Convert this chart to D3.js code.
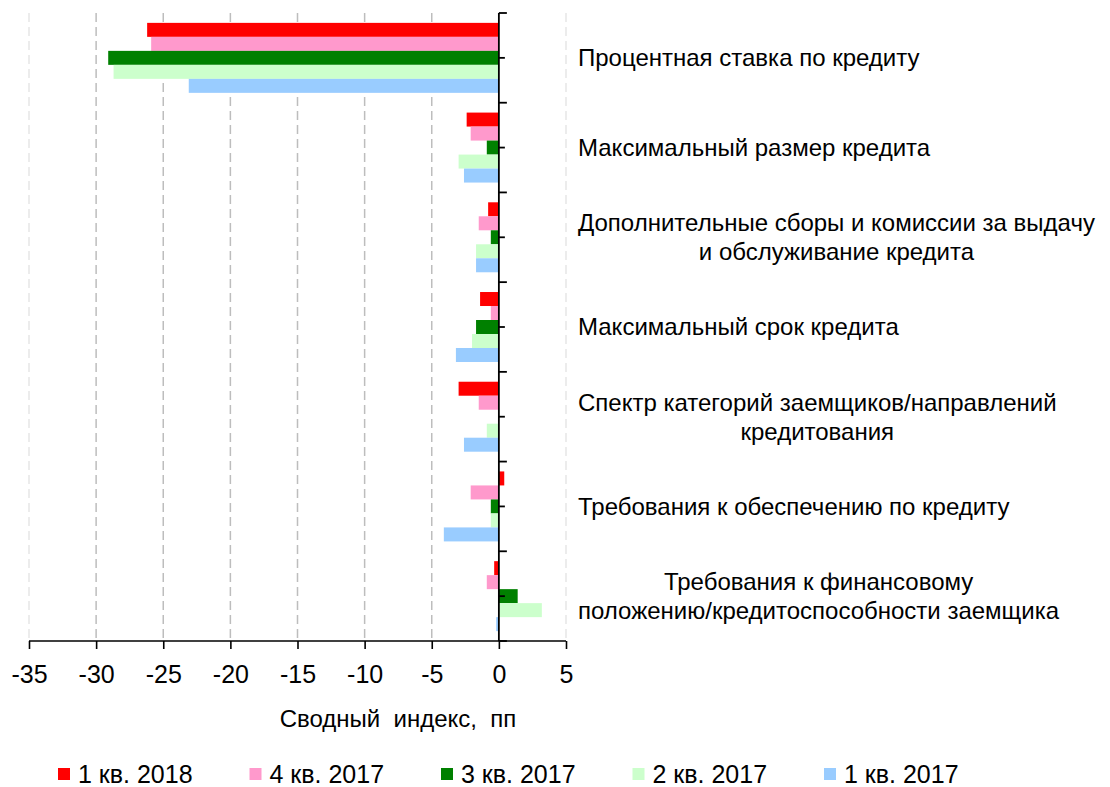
<!DOCTYPE html>
<html>
<head>
<meta charset="utf-8">
<script src="https://cdn.jsdelivr.net/npm/d3@7"></script>
<style>
  body { margin: 0; background: #fff; }
  text { font-family: "Liberation Sans", Arial, sans-serif; fill: #000; }
</style>
</head>
<body>
<script>
// categories (top to bottom), each label split into lines
var categories = [
  ["Процентная ставка по кредиту"],
  ["Максимальный размер кредита"],
  ["Дополнительные сборы и комиссии за выдачу", "и обслуживание кредита"],
  ["Максимальный срок кредита"],
  ["Спектр категорий заемщиков/направлений", "кредитования"],
  ["Требования к обеспечению по кредиту"],
  ["Требования к финансовому", "положению/кредитоспособности заемщика"]
];
var seriesNames = ["1 кв. 2018", "4 кв. 2017", "3 кв. 2017", "2 кв. 2017", "1 кв. 2017"];
var seriesColors = ["#ff0000", "#ff99cc", "#008000", "#ccffcc", "#99ccff"];

// values per series, in category order
var q1_2018 = [-26.2, -2.4, -0.8, -1.4, -3.0,  0.4, -0.35];
var q4_2017 = [-25.9, -2.1, -1.5, -0.6, -1.5, -2.1, -0.9];
var q3_2017 = [-29.1, -0.9, -0.6, -1.7,  0.0, -0.6,  1.4];
var q2_2017 = [-28.7, -3.0, -1.7, -2.0, -0.9, -0.6,  3.2];
var q1_2017 = [-23.1, -2.6, -1.7, -3.2, -2.6, -4.1, -0.2];
var seriesValues = [q1_2018, q4_2017, q3_2017, q2_2017, q1_2017];

var xTicks = [-35, -30, -25, -20, -15, -10, -5, 0, 5];

var W = 1110, H = 787;
var svg = d3.select("body").append("svg").attr("width", W).attr("height", H);

var x = d3.scaleLinear().domain([-35, 5]).range([29, 566]);
var y = d3.scaleBand().domain(d3.range(categories.length))
  .range([13, 641]).paddingInner(0.22).paddingOuter(0.11);
var yInner = d3.scaleBand().domain(d3.range(seriesNames.length)).range([0, y.bandwidth()]);
var step = y.step();

// gridlines
svg.append("g").selectAll("line").data(xTicks.filter(function(d) { return d !== 0; }))
  .enter().append("line")
  .attr("x1", function(d) { return x(d); }).attr("x2", function(d) { return x(d); })
  .attr("y1", 13).attr("y2", 641)
  .attr("stroke", function(d) { return (d === -35 || d === 5) ? "#e6e6e6" : "#bdbdbd"; })
  .attr("stroke-width", 1.5)
  .attr("stroke-dasharray", "9,5");

// bars
var rows = svg.append("g").selectAll("g").data(categories).enter().append("g")
  .attr("transform", function(d, i) { return "translate(0," + y(i) + ")"; });
rows.selectAll("rect").data(function(d, i) {
    return seriesValues.map(function(s, k) { return { k: k, v: s[i] }; });
  })
  .enter().append("rect")
  .attr("x", function(d) { return x(Math.min(0, d.v)); })
  .attr("width", function(d) { return Math.abs(x(d.v) - x(0)); })
  .attr("y", function(d) { return yInner(d.k); })
  .attr("height", yInner.bandwidth())
  .attr("fill", function(d) { return seriesColors[d.k]; });

// x axis
var xAxis = svg.append("g").attr("transform", "translate(0,641)")
  .call(d3.axisBottom(x).tickValues(xTicks).tickSize(8).tickPadding(16).tickFormat(d3.format("d")));
xAxis.select(".domain").attr("stroke-width", 1.6).attr("d", "M" + x(-35) + ",0H" + x(5));
xAxis.selectAll(".tick line").attr("stroke-width", 1.6);
xAxis.selectAll("text").style("font-size", "25px").style("font-family", "Liberation Sans, Arial, sans-serif")
  .text(function(d) { return String(d).replace("−", "-"); });

// zero (category) axis
var zx = x(0);
svg.append("line").attr("x1", zx).attr("x2", zx).attr("y1", 13).attr("y2", 641)
  .attr("stroke", "#000").attr("stroke-width", 1.8);
var bounds = d3.range(categories.length + 1).map(function(i) { return 13 + i * step; });
svg.append("g").selectAll("line").data(bounds).enter().append("line")
  .attr("x1", zx).attr("x2", zx + 8)
  .attr("y1", function(d) { return d; }).attr("y2", function(d) { return d; })
  .attr("stroke", "#000").attr("stroke-width", 1.8);
svg.append("g").selectAll("line").data(d3.range(categories.length)).enter().append("line")
  .attr("x1", zx).attr("x2", zx + 6)
  .attr("y1", function(i) { return 13 + (i + 0.5) * step; })
  .attr("y2", function(i) { return 13 + (i + 0.5) * step; })
  .attr("stroke", "#000").attr("stroke-width", 1.8);

// category labels (block left-aligned, lines centred in block)
var lineH = 29;
categories.forEach(function(lines, i) {
  var cy = 13 + (i + 0.5) * step;
  var g = svg.append("g");
  var ts = lines.map(function(t, j) {
    return g.append("text").attr("font-size", 24).attr("dy", "0.35em")
      .attr("y", cy + (j - (lines.length - 1) / 2) * lineH).text(t);
  });
  var widths = ts.map(function(t) { return t.node().getComputedTextLength(); });
  var maxW = d3.max(widths);
  ts.forEach(function(t, j) { t.attr("x", 578 + (maxW - widths[j]) / 2); });
});

// axis title
svg.append("text").attr("x", 398).attr("y", 727).attr("text-anchor", "middle")
  .attr("font-size", 24).attr("xml:space", "preserve").style("white-space", "pre")
  .text("Сводный  индекс,  пп");

// legend
var leg = svg.append("g").selectAll("g").data(seriesNames).enter().append("g")
  .attr("transform", function(d, i) { return "translate(" + (58 + i * 191.5) + ",768)"; });
leg.append("rect").attr("width", 12).attr("height", 12)
  .attr("fill", function(d, i) { return seriesColors[i]; });
leg.append("text").attr("x", 20).attr("y", 6).attr("dy", "0.35em").attr("font-size", 25)
  .text(function(d) { return d; });
</script>
</body>
</html>
